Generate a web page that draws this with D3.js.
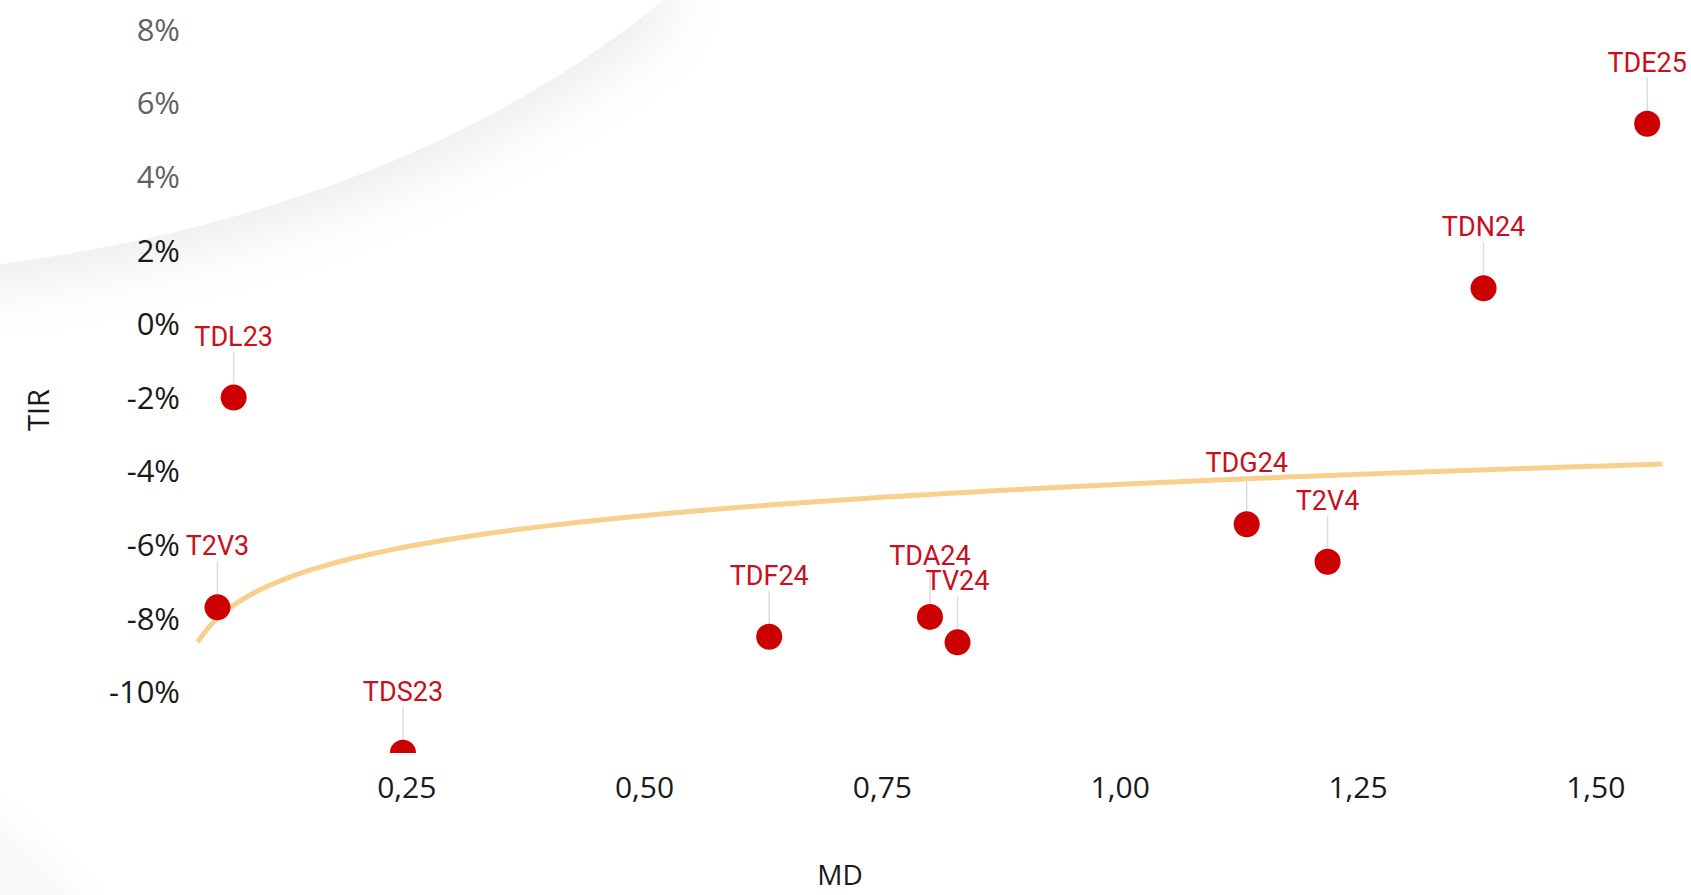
<!DOCTYPE html>
<html>
  <head>
    <meta charset="utf-8">
    <title>TIR vs MD</title>
    <script src="https://cdnjs.cloudflare.com/ajax/libs/d3/7.8.5/d3.min.js"></script>
    <style>
      body { margin: 0; background: #fff; }
      svg { display: block; }
    </style>
  </head>
  <body>

    <svg class="chart" width="1691" height="895"></svg>

    <script>

      // bond names, duration (MD) and yield (TIR)
      var names = ["TDL23", "T2V3", "TDS23", "TDF24", "TDA24", "TV24", "TDG24", "T2V4", "TDN24", "TDE25"];
      var md    = [0.068, 0.051, 0.246, 0.631, 0.800, 0.829, 1.133, 1.218, 1.382, 1.554];
      var tir   = [-0.0200, -0.0770, -0.1165, -0.0850, -0.0796, -0.0865, -0.0544, -0.0646, 0.0097, 0.0544];

      var xTicks = [0.25, 0.50, 0.75, 1.00, 1.25, 1.50];
      var yTicks = [-0.10, -0.08, -0.06, -0.04, -0.02, 0, 0.02, 0.04, 0.06, 0.08];

      var points = names.map(function(n, i){ return { name: n, md: md[i], tir: tir[i] }; });

      var locale = d3.formatLocale({ decimal: ",", thousands: ".", grouping: [3], currency: ["", " €"], minus: "-" });

      var x = d3.scaleLinear().domain([0.03, 1.57]).range([197.5, 1662.4]);
      var y = d3.scaleLinear().domain([-0.10, 0.08]).range([692, 29.6]);

      var svg = d3.select("svg.chart");

      // decorative swoosh in the corner
      var defs = svg.append("defs");
      var shadow = defs.append("filter").attr("id", "shadow")
        .attr("x", "-50%").attr("y", "-50%").attr("width", "200%").attr("height", "200%");
      shadow.append("feDropShadow")
        .attr("dx", 8).attr("dy", 20).attr("stdDeviation", 30)
        .attr("flood-color", "#000").attr("flood-opacity", 0.07);
      defs.append("filter").attr("id", "blur")
        .append("feGaussianBlur").attr("stdDeviation", 20);
      defs.append("clipPath").attr("id", "plotclip")
        .append("rect").attr("x", 0).attr("y", 0).attr("width", 1691).attr("height", 753);

      var swoosh = "M-60,-60 L-60,272 L0,264 C250,230 480,150 663,0 L663,-60 Z";

      svg.append("path").attr("d", swoosh).attr("fill", "#fff").attr("filter", "url(#shadow)");
      svg.append("path")
        .attr("d", "M-40,790 C30,830 70,870 110,935 L-40,935 Z")
        .attr("fill", "#000").attr("opacity", 0.025).attr("filter", "url(#blur)");

      // axes (labels only)
      var yAxis = svg.append("g").attr("class", "y axis");
      yAxis.selectAll("text")
        .data(yTicks)
        .enter()
          .append("text")
            .attr("x", 180)
            .attr("y", function(d){ return y(d); })
            .attr("dy", "0.36em")
            .attr("text-anchor", "end")
            .attr("font-family", "Open Sans")
            .attr("font-size", 31)
            .attr("fill", "#1a1a1a")
            .text(function(d){ return locale.format(".0%")(d); });

      var xAxis = svg.append("g").attr("class", "x axis");
      xAxis.selectAll("text")
        .data(xTicks)
        .enter()
          .append("text")
            .attr("x", function(d){ return x(d); })
            .attr("y", 787)
            .attr("dy", "0.36em")
            .attr("text-anchor", "middle")
            .attr("font-family", "Open Sans")
            .attr("font-size", 30)
            .attr("fill", "#1a1a1a")
            .text(function(d){ return locale.format(".2f")(d); });

      svg.append("text")
        .attr("transform", "translate(39,410) rotate(-90)")
        .attr("dy", "0.36em")
        .attr("text-anchor", "middle")
        .attr("font-family", "Open Sans")
        .attr("font-size", 29)
        .attr("fill", "#1a1a1a")
        .text("TIR");

      svg.append("text")
        .attr("x", 840).attr("y", 875)
        .attr("dy", "0.36em")
        .attr("text-anchor", "middle")
        .attr("font-family", "Open Sans")
        .attr("font-size", 28)
        .attr("fill", "#1a1a1a")
        .text("MD");

      // logarithmic trend line fitted on the points
      var lx = d3.mean(points, function(p){ return Math.log(p.md); });
      var ly = d3.mean(points, function(p){ return p.tir; });
      var sxy = d3.sum(points, function(p){ return (Math.log(p.md) - lx) * (p.tir - ly); });
      var sxx = d3.sum(points, function(p){ return Math.pow(Math.log(p.md) - lx, 2); });
      var a = sxy / sxx, b = ly - a * lx;
      var trend = d3.range(0, 101).map(function(i){
        var v = x.domain()[0] + (x.domain()[1] - x.domain()[0]) * i / 100;
        return [v, a * Math.log(v) + b];
      });

      svg.append("path")
        .attr("class", "trend")
        .attr("d", d3.line().x(function(d){ return x(d[0]); }).y(function(d){ return y(d[1]); }).curve(d3.curveMonotoneX)(trend))
        .attr("fill", "none")
        .attr("stroke", "#f8cf8c")
        .attr("stroke-width", 5);

      // points with leader lines and labels
      var plot = svg.append("g").attr("clip-path", "url(#plotclip)");

      plot.selectAll("line.leader")
        .data(points)
        .enter()
          .append("line")
            .attr("class", "leader")
            .attr("x1", function(d){ return x(d.md); })
            .attr("x2", function(d){ return x(d.md); })
            .attr("y1", function(d){ return y(d.tir) - 46; })
            .attr("y2", function(d){ return y(d.tir) - 12; })
            .attr("stroke", "#dcdcdc")
            .attr("stroke-width", 1.5);

      plot.selectAll("circle.dot")
        .data(points)
        .enter()
          .append("circle")
            .attr("class", "dot")
            .attr("cx", function(d){ return x(d.md); })
            .attr("cy", function(d){ return y(d.tir); })
            .attr("r", 13)
            .attr("fill", "#cc0000");

      svg.append("g").attr("class", "labels")
        .selectAll("text")
        .data(points)
        .enter()
          .append("text")
            .attr("x", function(d){ return x(d.md); })
            .attr("y", function(d){ return y(d.tir) - 52; })
            .attr("text-anchor", "middle")
            .attr("font-family", "Roboto")
            .attr("font-size", 27)
            .attr("fill", "#c8101e")
            .text(function(d){ return d.name; });

      // light veil of the swoosh over the corner
      svg.append("path").attr("d", swoosh).attr("fill", "#fff").attr("opacity", 0.3);

    </script>
  </body>
</html>
